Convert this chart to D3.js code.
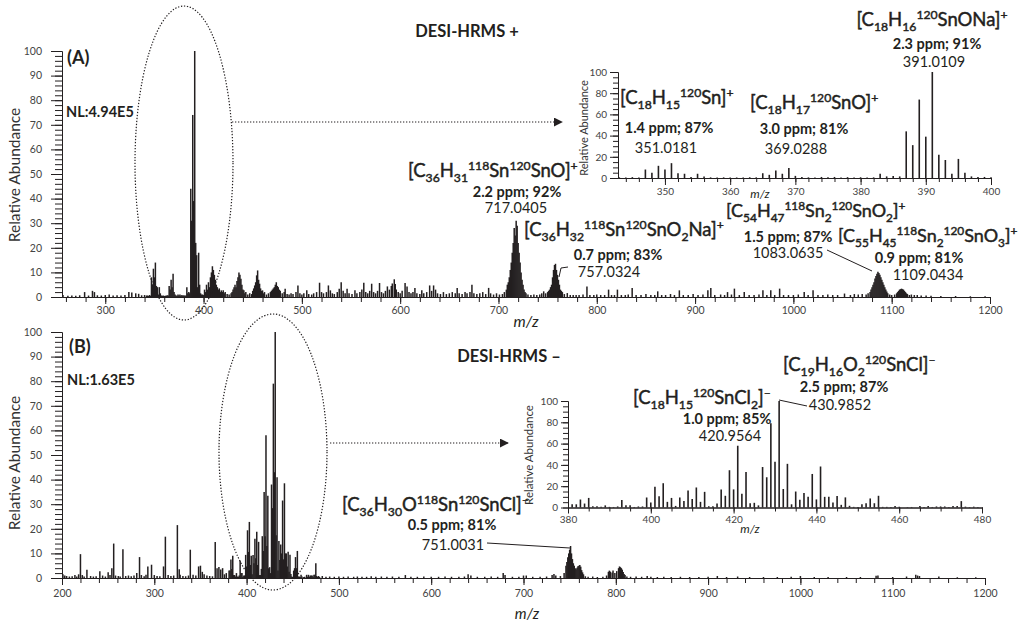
<!DOCTYPE html>
<html>
<head>
<meta charset="utf-8">
<script src="https://cdn.jsdelivr.net/npm/d3@7"></script>
<style>
body { margin: 0; background: #fff; }
svg { font-family: Lato, "Open Sans", sans-serif; }
.axis text { fill: #444; }
.axis line, .axis path { stroke: #231f20; }
</style>
</head>
<body>
<div id="chart-area"></div>
<script>

// DATA (m/z, relative abundance %)
// ================================

// positive mode, inset 343-400 (also used in the main spectrum)
var posInset = [
    [343,0.6],[344,0.4],[345,0.8],[346,0.5],[347,8],[348,5],[349,11.5],[350,8],[351,14],[352,4.5],
    [353,4],[354,1],[355,4],[356,1.5],[357,0.6],[358,0.5],[359,0.6],[360,0.4],[361,0.5],[362,0.5],
    [363,0.7],[364,0.6],[365,4.5],[366,3],[367,7],[368,4],[369,9.5],[370,2],[371,1],[372,0.6],
    [373,0.5],[374,1],[375,0.6],[376,1],[377,0.5],[378,0.8],[379,0.5],[380,0.7],[381,0.5],[382,0.6],
    [383,4],[384,1.5],[385,2],[386,1.5],[387,44],[388,31],[389,74],[390,39],[391,100],[392,22],
    [393,17],[394,4],[395,18],[396,5],[397,1.5],[398,1],[399,1],[400,0.8]
];

// positive mode, main spectrum below 343
var posLow = [
    [257,0.8],[262,0.5],[266,0.6],[270,0.5],[274,0.7],[279,2],[283,0.6],[287,2.5],[289,2],[292,0.7],
    [296,0.6],[300,0.8],[304,1],[308,0.6],[312,0.7],[316,0.6],[320,0.8],[324,2],[327,1.8],[331,1.5],
    [334,1.3],[337,0.7],[340,0.8],[342,0.6]
];

// positive mode, main spectrum above 400
var posHigh = [
    [401,3],[402,2],[403,5],[404,3],[405,6],[406,4],[407,8],[408,10],[409,12.5],[410,11],[411,9],[412,7],
    [413,5],[414,4],[415,3],[416,3.5],[417,2],[418,2.7],[419,2],[420,2.7],[421,1.5],[422,2],[424,1.2],
    [426,1],[428,1.5],[429,2],[430,3],[431,4],[432,5],[433,4],[434,6.5],[435,8],[436,10],[437,9],
    [438,7.4],[439,5],[440,3],[441,2.7],[442,1.5],[443,2],[445,1],[447,1.5],[449,1.2],[450,2.5],
    [451,3.5],[452,4.7],[453,6],[454,8.8],[455,10.8],[456,7],[457,5.4],[458,3.5],[459,2.5],[460,2.7],
    [461,1.5],[462,2],[464,1],[466,1.5],[468,2],[469,2.5],[470,3],[471,3.5],[472,4],[473,5],[474,6],
    [475,4.5],[476,4],[477,3],[478,2.5],[480,1.5],[482,2],[483,3.4],[485,1.2],[487,1],[489,1.5],
    [491,1.2],[494,2],[496,4.7],[498,1.5],[500,1],[502,1.5],[505,2.7],[507,1.2],[510,1],[512,1.5],
    [515,2],[518,5.8],[520,2],[522,1.5],[525,2],[527,4.7],[529,2.7],[531,1.5],[533,1.2],[536,2],
    [538,3.4],[540,6],[542,2.5],[544,1.5],[546,3.4],[548,1.5],[551,1.2],[554,2.7],[556,1.5],[559,2],
    [561,3],[563,5.8],[565,2],[567,1.5],[569,2.5],[571,5.4],[573,2],[575,1.5],[577,2.5],[579,5.7],
    [581,2],[583,1.5],[585,2.5],[587,4.3],[589,3],[591,4.5],[592,5.5],[594,7.2],[595,5.3],[596,3],
    [598,2],[600,1.5],[602,2.5],[605,5.7],[607,4.3],[609,2],[611,1.5],[613,2],[615,3.7],[617,1.5],
    [620,1.2],[622,2.7],[624,1.5],[627,2],[630,4.7],[632,2.5],[634,4.7],[636,3],[638,1.5],[641,1.2],
    [644,2],[647,1.2],[650,1.5],[653,2],[656,1.5],[658,3.7],[660,1.5],[663,1.2],[666,2],[668,1.5],
    [671,2],[673,5],[675,1.5],[678,1.2],[681,1.5],[684,2],[687,1.2],[690,3.7],[692,1.5],[695,1],
    [698,1.5],[701,1],[704,1.2],[706,2],[708,3],[709,5],[710,6],[711,8],[712,11],[713,14],[714,18],
    [715,22],[716,28],[717,25],[718,31],[719,29],[720,22],[721,18],[722,14],[723,10],[724,7],[725,5],
    [726,3],[727,2],[728,1.5],[730,1],[733,0.8],[736,1],[739,0.8],[742,1],[744,1.5],[746,2.3],[748,1.5],
    [750,2],[751,2.5],[752,3],[753,4],[754,5],[755,8],[756,11],[757,13],[758,13.5],[759,11],[760,9],
    [761,7],[762,5],[763,3],[764,2.5],[765,2],[767,1.2],[770,1.6],[773,0.8],[776,0.8],[779,0.8],
    [782,0.8],[786,1],[790,4.3],[793,0.8],[797,0.8],[800,1],[804,0.8],[808,0.8],[812,3],[815,0.8],
    [818,0.8],[821,3],[825,0.8],[829,0.8],[832,1],[836,3.7],[840,0.8],[845,0.8],[850,1.2],[855,0.8],
    [859,0.8],[862,2.3],[866,0.8],[870,0.8],[875,1.2],[879,0.8],[884,2.7],[888,0.8],[893,0.8],
    [898,1.2],[903,0.8],[908,1],[913,2.7],[916,3.7],[920,0.8],[926,1],[930,0.8],[933,2],[937,1],
    [940,3.4],[945,0.8],[950,2],[955,0.8],[960,0.8],[965,1],[969,2.7],[973,0.8],[977,2.7],[981,0.8],
    [986,3.4],[990,0.8],[995,0.8],[1000,0.8],[1005,1],[1011,2],[1015,0.8],[1020,2.7],[1025,0.8],
    [1030,0.8],[1035,1],[1040,0.8],[1045,0.8],[1052,1.4],[1058,0.8],[1062,1.2],[1066,1],[1070,1.2],
    [1074,1],[1076,1.5],[1078,2],[1079,3],[1080,4],[1081,5],[1082,6],[1083,7.5],[1084,8.5],[1085,9.5],
    [1086,10.3],[1087,9.8],[1088,9],[1089,8],[1090,7],[1091,6],[1092,5],[1093,4],[1094,3],[1095,2.2],
    [1096,1.5],[1098,1],[1100,0.8],[1103,1],[1105,1.5],[1106,2],[1107,2.5],[1108,3],[1109,3.2],
    [1110,3.4],[1111,3.2],[1112,3],[1113,2.5],[1114,2],[1115,1.5],[1116,1.2],[1118,0.8],[1120,1],
    [1123,0.8],[1126,0.8],[1130,0.6],[1135,0.6],[1140,0.5],[1150,0.4],[1165,0.4],[1180,0.3],[1195,0.3]
];

// negative mode, inset 380-480 (also used in the main spectrum)
var negInset = [
    [381,3],[382,3],[383,7.5],[384,3.7],[385,9],[386,1.2],[387,1.2],[388,0.6],[389,2],[390,0.6],
    [391,0.5],[392,1],[393,7],[394,2],[395,2],[396,0.5],[397,1],[398,1],[399,9.4],[400,4.7],
    [401,19.4],[402,10.6],[403,22.8],[404,5.3],[405,9],[406,1.5],[407,9.4],[408,6],[409,16],[410,8],
    [411,18.8],[412,5.3],[413,14.7],[414,1.2],[415,1.2],[416,3.7],[417,17],[418,11],[419,35],[420,17],
    [421,58],[422,13],[423,33.4],[424,4],[425,4.4],[426,2],[427,38],[428,28.4],[429,79],[430,43],
    [431,100],[432,17.4],[433,41],[434,3],[435,15],[436,7.3],[437,13.6],[438,10],[439,31.5],[440,7.6],
    [441,38.5],[442,10],[443,10],[444,4.7],[445,10.7],[446,2.5],[447,9.5],[448,1.6],[449,0.6],[450,0.4],
    [451,3],[452,4],[453,8.5],[454,4],[455,11],[456,0.6],[457,0.6],[458,0.4],[459,1.3],[460,0.6],
    [462,0.4],[463,0.5],[465,1.3],[466,0.5],[467,1.3],[468,0.5],[469,1],[470,1],[471,1],[472,0.5],
    [473,1.3],[474,1.3],[475,6],[476,0.8],[477,0.4],[478,0.8],[479,0.4]
];

// negative mode, main spectrum below 380
var negLow = [
    [201,1.5],[203,1],[205,0.8],[208,0.6],[211,0.7],[214,1.2],[216,0.6],[218,1.5],[220,9.7],[222,1.2],
    [224,0.6],[227,3.4],[231,0.8],[234,0.6],[237,0.7],[241,2.7],[244,1],[247,0.6],[250,2.3],[252,1.2],
    [254,4],[256,14],[258,1],[261,0.8],[263,0.6],[266,11.7],[269,0.8],[272,1],[275,0.7],[278,1],
    [281,2],[284,8.5],[286,1.2],[289,0.7],[291,1.3],[293,4.7],[297,5.4],[300,1.2],[303,0.8],[306,0.7],
    [310,4.7],[312,16.8],[315,1.2],[318,0.8],[321,1],[325,21.5],[327,3.6],[328,1.3],[331,0.8],
    [334,0.7],[337,1],[339,11.5],[342,1.3],[345,1],[348,4.7],[350,5],[352,2.5],[354,1.5],[357,1],
    [360,0.8],[363,0.7],[366,14.6],[368,4],[370,4.5],[372,3.5],[374,4],[376,1.5],[378,2]
];

// negative mode, main spectrum above 480
var negHigh = [
    [482,0.8],[486,0.5],[490,0.6],[495,0.5],[500,0.6],[505,0.5],[510,0.6],[516,0.5],[520,0.6],
    [525,0.5],[530,0.5],[535,0.7],[540,0.5],[546,0.6],[552,0.5],[558,0.6],[565,0.5],[572,1.2],
    [578,0.5],[585,0.5],[592,0.6],[600,0.5],[608,0.5],[615,0.6],[622,0.5],[630,0.5],[636,0.6],
    [640,1.5],[643,1],[650,0.5],[658,0.5],[665,0.6],[672,0.5],[678,2],[680,1.2],[688,0.5],[695,0.5],
    [700,1],[703,1],[710,0.5],[718,0.5],[725,0.6],[731,1.2],[733,1.6],[735,1],[740,0.8],[744,2],
    [746,5],[747,6.5],[748,8.4],[749,10],[750,11.5],[751,13],[752,10],[753,7.7],[754,6],[755,5],
    [756,4],[757,3.6],[758,4.2],[759,4.8],[760,5],[761,5.3],[762,4.6],[763,3.2],[764,2.3],[765,1.5],
    [767,0.7],[770,0.5],[775,0.6],[780,0.4],[786,0.5],[790,1],[792,2.5],[793,3],[794,2.6],[796,2.2],
    [797,3],[799,2],[801,2.8],[803,4],[804,4.7],[805,4.4],[806,4],[807,3.4],[808,2.4],[809,1.6],
    [810,1.2],[812,0.6],[816,0.5],[822,0.6],[828,0.5],[834,0.8],[838,0.5],[845,0.4],[852,0.5],
    [860,0.4],[870,0.5],[880,0.4],[890,0.4],[900,0.5],[910,0.8],[920,0.4],[932,0.6],[945,0.4],
    [960,0.4],[975,0.4],[990,0.5],[1000,0.8],[1015,0.4],[1030,0.4],[1050,0.4],[1065,0.4],[1082,0.9],
    [1084,1],[1100,0.4],[1115,0.6],[1125,1.3],[1127,1],[1129,0.8],[1150,0.6],[1170,0.3],[1190,0.3]
];

var posMain = posLow.concat(posInset, posHigh);
var negMain = negLow.concat(negInset, negHigh);

// tick values
var mainYTicks = d3.range(0, 101, 10);
var mainYMinor = d3.range(0, 101, 2);
var insetYTicks = d3.range(0, 101, 20);
var insetYMinor = d3.range(0, 101, 5);
var mainXTicks = d3.range(300, 1201, 100);
var mainXTicksB = d3.range(200, 1201, 100);
var mainXMinor = d3.range(260, 1201, 20);
var mainXMinorB = d3.range(200, 1201, 20);
var posInsetXTicks = d3.range(350, 401, 10);
var posInsetXMinor = d3.range(344, 401, 2);
var negInsetXTicks = d3.range(380, 481, 20);
var negInsetXMinor = d3.range(380, 481, 5);


// CANVAS
// =======

var svg = d3.select('#chart-area')
    .append('svg')
        .attr('width', 1026)
        .attr('height', 623);

var ink = '#231f20';

svg.append('defs').append('marker')
    .attr('id', 'arrow')
    .attr('viewBox', '0 0 10 10')
    .attr('refX', 9).attr('refY', 5)
    .attr('markerWidth', 9).attr('markerHeight', 9)
    .attr('markerUnits', 'userSpaceOnUse')
    .attr('orient', 'auto')
  .append('path')
    .attr('d', 'M0,0L10,5L0,10Z')
    .attr('fill', ink);


// HELPERS
// ========

function sticks(g, data, x, y, w) {
    g.append('g').selectAll('line')
        .data(data.filter(d => d[0] >= x.domain()[0] && d[0] <= x.domain()[1]))
        .enter()
        .append('line')
        .attr('x1', d => x(d[0]))
        .attr('x2', d => x(d[0]))
        .attr('y1', y(0))
        .attr('y2', d => y(d[1]))
        .attr('stroke', ink)
        .attr('stroke-width', w);
}

function axes(x, y, o) {
    var base = y(0), left = x.range()[0];
    svg.append('g').attr('class', 'axis')
        .attr('transform', 'translate(0,' + base + ')')
        .call(d3.axisBottom(x).tickValues(o.xMinor).tickSize(o.xMinorLen).tickSizeOuter(0).tickFormat(''));
    svg.append('g').attr('class', 'axis')
        .attr('transform', 'translate(0,' + base + ')')
        .call(d3.axisBottom(x).tickValues(o.xTicks).tickSize(o.xLen).tickPadding(o.xPad)
            .tickSizeOuter(0).tickFormat(d3.format('d')))
        .attr('font-size', o.font).attr('font-family', null);
    svg.append('g').attr('class', 'axis')
        .attr('transform', 'translate(' + left + ',0)')
        .call(d3.axisLeft(y).tickValues(o.yMinor).tickSize(o.yMinorLen).tickSizeOuter(0).tickFormat(''));
    svg.append('g').attr('class', 'axis')
        .attr('transform', 'translate(' + left + ',0)')
        .call(d3.axisLeft(y).tickValues(o.yTicks).tickSize(o.yLen).tickPadding(o.yPad)
            .tickSizeOuter(0).tickFormat(d3.format('d')))
        .attr('font-size', o.font).attr('font-family', null);
}

// "[C_{18}H_{16}^{120}SnONa]^{+}" -> text with sub/superscripts
function chem(x, y, str, size, anchor) {
    var t = svg.append('text')
        .attr('x', x).attr('y', y)
        .attr('font-size', size)
        .attr('text-anchor', anchor || 'start')
        .attr('fill', ink)
        .attr('stroke', ink)
        .attr('stroke-width', 0.45);
    var re = /_\{([^}]*)\}|\^\{([^}]*)\}|([^_^]+)/g, m, shift = 0;
    while ((m = re.exec(str)) !== null) {
        var kind = m[1] !== undefined ? 'sub' : m[2] !== undefined ? 'sup' : 'n';
        var txt = m[1] || m[2] || m[3];
        var want = kind === 'sub' ? size * 0.26 : kind === 'sup' ? -size * 0.4 : 0;
        t.append('tspan')
            .attr('dy', want - shift)
            .attr('font-size', kind === 'n' ? size : size * 0.66)
            .text(txt);
        shift = want;
    }
}

function label(x, y, txt, size, weight, anchor, style) {
    return svg.append('text')
        .attr('x', x).attr('y', y)
        .attr('font-size', size)
        .attr('font-weight', weight || 'normal')
        .attr('font-style', style || 'normal')
        .attr('text-anchor', anchor || 'middle')
        .attr('fill', ink)
        .text(txt);
}

function yTitle(x, y, txt, size) {
    svg.append('text')
        .attr('transform', 'translate(' + x + ',' + y + ') rotate(-90)')
        .attr('font-size', size)
        .attr('text-anchor', 'middle')
        .attr('fill', '#333')
        .text(txt);
}

function leader(points) {
    svg.append('path')
        .attr('d', d3.line()(points))
        .attr('fill', 'none')
        .attr('stroke', ink)
        .attr('stroke-width', 1);
}

function dotted(sel) {
    return sel.attr('fill', 'none')
        .attr('stroke', ink)
        .attr('stroke-width', 1.2)
        .attr('stroke-dasharray', '1.3,1.7');
}


// (A) POSITIVE MODE
// ==================

var xA = d3.scaleLinear().domain([256, 1200]).range([62, 990]);
var yA = d3.scaleLinear().domain([0, 100]).range([297, 51]);

sticks(svg, posMain, xA, yA, 1.5);
axes(xA, yA, {
    xTicks: mainXTicks, xMinor: mainXMinor, xLen: 7, xMinorLen: 5, xPad: 3,
    yTicks: mainYTicks, yMinor: mainYMinor, yLen: 11, yMinorLen: 7, yPad: 9, font: 10.5
});
yTitle(20, 175, 'Relative Abundance', 15.5);
label(526, 327, 'm/z', 15.5, 'normal', 'middle', 'italic');
label(67, 64, '(A)', 18, 'bold', 'start');
label(66, 117, 'NL:4.94E5', 14.5, 'bold', 'start');
label(467, 37, 'DESI-HRMS +', 16.5, 'bold');

dotted(svg.append('ellipse')).attr('cx', 184).attr('cy', 163).attr('rx', 49).attr('ry', 157);
dotted(svg.append('line')).attr('x1', 232).attr('y1', 122).attr('x2', 562).attr('y2', 122)
    .attr('marker-end', 'url(#arrow)');

chem(408, 177, '[C_{36}H_{31}^{118}Sn^{120}SnO]^{+}', 18.5);
label(517, 197, '2.2 ppm; 92%', 14.5, 'bold');
label(516, 213, '717.0405', 14.5);

chem(524, 236, '[C_{36}H_{32}^{118}Sn^{120}SnO_{2}Na]^{+}', 18.5);
label(618, 260, '0.7 ppm; 83%', 14.5, 'bold');
label(609, 277, '757.0324', 14.5);
leader([[568, 267], [561, 268], [559, 277]]);

chem(726, 217, '[C_{54}H_{47}^{118}Sn_{2}^{120}SnO_{2}]^{+}', 18);
label(788, 242, '1.5 ppm; 87%', 14.5, 'bold');
label(788, 258, '1083.0635', 14.5);
leader([[827, 250], [872, 271]]);

chem(838, 242, '[C_{55}H_{45}^{118}Sn_{2}^{120}SnO_{3}]^{+}', 18);
label(919, 263, '0.9 ppm; 81%', 14.5, 'bold');
label(928, 280, '1109.0434', 14.5);

// inset A
var xAi = d3.scaleLinear().domain([342.8, 400]).range([618, 991]);
var yAi = d3.scaleLinear().domain([0, 100]).range([178, 72]);

sticks(svg, posInset, xAi, yAi, 1.6);
axes(xAi, yAi, {
    xTicks: posInsetXTicks, xMinor: posInsetXMinor, xLen: 7, xMinorLen: 4, xPad: 3,
    yTicks: insetYTicks, yMinor: insetYMinor, yLen: 8, yMinorLen: 5, yPad: 3, font: 10
});
yTitle(588, 128, 'Relative Abundance', 11);
label(760, 198, 'm/z', 12, 'normal', 'middle', 'italic');

chem(932, 26, '[C_{18}H_{16}^{120}SnONa]^{+}', 18.5, 'middle');
label(937, 49, '2.3 ppm; 91%', 14.5, 'bold');
label(934, 67, '391.0109', 14.5);

chem(620, 104, '[C_{18}H_{15}^{120}Sn]^{+}', 18.5);
label(669, 133, '1.4 ppm; 87%', 14.5, 'bold');
label(666, 153, '351.0181', 14.5);

chem(750, 109, '[C_{18}H_{17}^{120}SnO]^{+}', 18.5);
label(804, 134, '3.0 ppm; 81%', 14.5, 'bold');
label(796, 154, '369.0288', 14.5);


// (B) NEGATIVE MODE
// ==================

var xB = d3.scaleLinear().domain([200, 1200]).range([62, 985]);
var yB = d3.scaleLinear().domain([0, 100]).range([578, 332]);

sticks(svg, negMain, xB, yB, 1.5);
axes(xB, yB, {
    xTicks: mainXTicksB, xMinor: mainXMinorB, xLen: 7, xMinorLen: 5, xPad: 5,
    yTicks: mainYTicks, yMinor: mainYMinor, yLen: 11, yMinorLen: 7, yPad: 9, font: 10.5
});
yTitle(20, 463, 'Relative Abundance', 15.5);
label(527, 619, 'm/z', 15, 'normal', 'middle', 'italic');
label(69, 353, '(B)', 18, 'bold', 'start');
label(67, 385, 'NL:1.63E5', 14.5, 'bold', 'start');
label(509, 362, 'DESI-HRMS \u2013', 16.5, 'bold');

dotted(svg.append('ellipse')).attr('cx', 273).attr('cy', 452).attr('rx', 54).attr('ry', 138);
dotted(svg.append('line')).attr('x1', 330).attr('y1', 443).attr('x2', 508).attr('y2', 443)
    .attr('marker-end', 'url(#arrow)');

chem(342, 511, '[C_{36}H_{30}O^{118}Sn^{120}SnCl]^{\u2013}', 18.5);
label(452, 530, '0.5 ppm; 81%', 14.5, 'bold');
label(453, 550, '751.0031', 14.5);
leader([[487, 543], [570, 548]]);

// inset B
var xBi = d3.scaleLinear().domain([380, 480]).range([568, 982]);
var yBi = d3.scaleLinear().domain([0, 100]).range([507.5, 401]);

sticks(svg, negInset, xBi, yBi, 1.6);
axes(xBi, yBi, {
    xTicks: negInsetXTicks, xMinor: negInsetXMinor, xLen: 6, xMinorLen: 4, xPad: 2,
    yTicks: insetYTicks, yMinor: insetYMinor, yLen: 7, yMinorLen: 5, yPad: 3, font: 10
});
yTitle(533, 455, 'Relative Abundance', 11.5);
label(750, 533, 'm/z', 12, 'normal', 'middle', 'italic');

chem(633, 404, '[C_{18}H_{15}^{120}SnCl_{2}]^{\u2013}', 18.5);
label(727, 424, '1.0 ppm; 85%', 14.5, 'bold');
label(730, 441, '420.9564', 14.5);

chem(783, 371, '[C_{19}H_{16}O_{2}^{120}SnCl]^{\u2013}', 18.5);
label(844, 392, '2.5 ppm; 87%', 14.5, 'bold');
label(840, 410, '430.9852', 14.5);
leader([[779, 400], [807, 406]]);

</script>
</body>
</html>
